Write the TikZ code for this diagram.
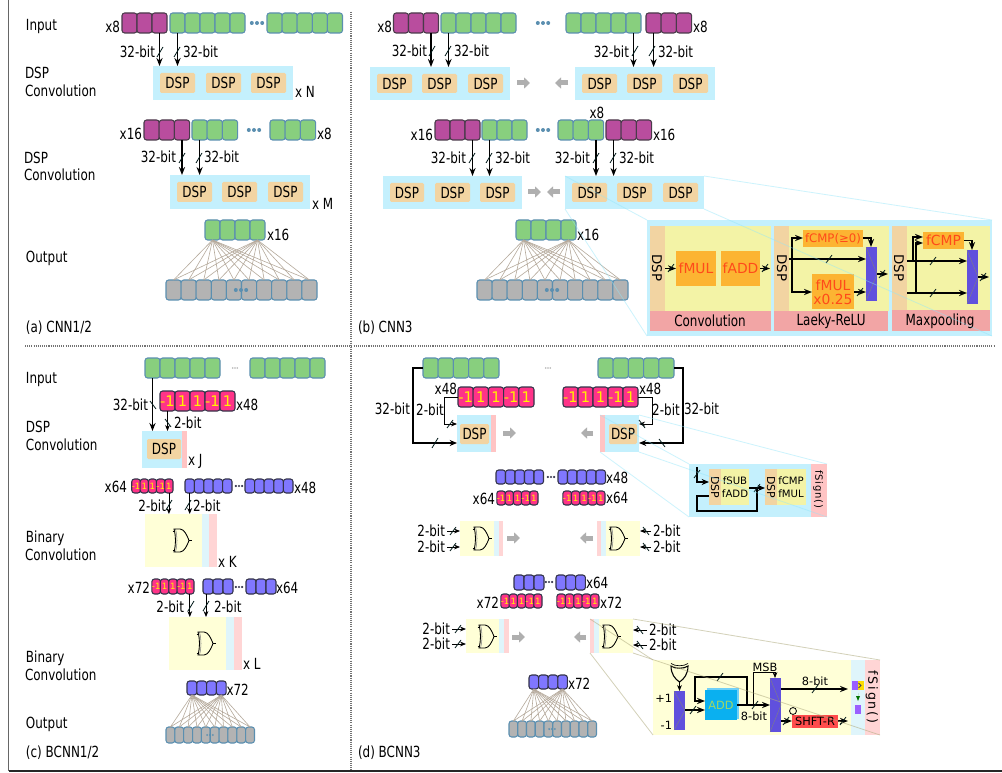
\documentclass[tikz,border=0pt]{standalone}
\usepackage{fontspec}
\usetikzlibrary{arrows.meta}
\setmainfont[FakeStretch=0.78]{DejaVu Sans}
\newfontfamily\plain{DejaVu Sans}
\newfontfamily\spaced[LetterSpace=15]{DejaVu Sans}
\newfontfamily\spacedb[LetterSpace=8]{DejaVu Sans}
\definecolor{cgreen}{HTML}{88CF7E}
\definecolor{cblueb}{HTML}{5B8FB0}
\definecolor{cmag}{HTML}{B94D9E}
\definecolor{cmagb}{HTML}{4A3A4A}
\definecolor{cpink}{HTML}{FF3388}
\definecolor{cpurp}{HTML}{8077FF}
\definecolor{cdark}{HTML}{33334A}
\definecolor{cgray}{HTML}{B3B3B3}
\definecolor{csky}{HTML}{C4F0FD}
\definecolor{ctan}{HTML}{F2D4A2}
\definecolor{cly}{HTML}{FFFFD7}
\definecolor{clb}{HTML}{DFF5FB}
\definecolor{cpp}{HTML}{FFD5D5}
\definecolor{cstrip}{HTML}{FFC4C4}
\definecolor{cmux}{HTML}{6050DD}
\definecolor{ciy}{HTML}{F3F3A6}
\definecolor{cib}{HTML}{F2A5A5}
\definecolor{corg}{HTML}{FCB432}
\definecolor{ctxt}{HTML}{FF4A1A}
\definecolor{cfan}{HTML}{B5A99B}
\definecolor{czoom}{HTML}{8FE6FB}
\definecolor{czoomb}{HTML}{B0AC80}
\definecolor{cadd}{HTML}{0AB0F0}
\definecolor{cadds}{HTML}{70D0F8}
\definecolor{cgarr}{HTML}{AFAFAF}
\tikzset{
 bxb/.style={inner sep=0pt,outer sep=0pt},
 lab/.style={inner sep=0pt,outer sep=0pt,text height=8.4pt,text depth=0pt,font=\fontsize{11.5}{13}\selectfont},
 sm/.style={font=\plain\fontsize{8.5}{10}\selectfont,text height=6.2pt},
 org/.style={font=\plain\fontsize{10.4}{12}\selectfont,text height=7.6pt,text=ctxt},
 rotd/.style={font=\plain\fontsize{10}{12}\selectfont,text height=7.3pt,rotate=-90},
 cellb/.style={inner sep=0pt,outer sep=0pt,rounded corners=2pt,line width=0.8pt},
 gcell/.style={fill=cgreen,draw=cblueb},
 mcell/.style={fill=cmag,draw=cmagb},
 pcell/.style={fill=cpink,draw=cdark,text=yellow},
 ucell/.style={fill=cpurp,draw=cdark},
 ycell/.style={fill=cgray,draw=cblueb},
 skyb/.style={fill=csky},
 tanb/.style={fill=ctan,rounded corners=1pt},
 wire/.style={line width=1pt,black,-{Stealth[length=6pt,width=4.6pt]}},
 thinw/.style={line width=0.6pt,black,-{Stealth[length=4.5pt,width=3.6pt]}},
 plainw/.style={line width=1pt,black},
 bwire/.style={line width=1.4pt,black,-{Stealth[length=5.5pt,width=4.5pt]}},
 garrow/.style={line width=3.75pt,cgarr,-{Triangle[length=4.5pt,width=8.25pt]}},
 tick/.style={line width=0.6pt,black!80!teal},
 fanl/.style={line width=0.45pt,cfan},
 zoomc/.style={line width=0.6pt,czoom,opacity=0.45},
 zoomg/.style={line width=0.6pt,czoomb,opacity=0.55},
 muxx/.style={line width=0.3pt,gray},
}
\newcounter{lab}
\newcommand{\lbl}[5][]{\stepcounter{lab}\node[name=lab\arabic{lab},lab,anchor=#4,#1] at (#2,#3) {#5};}
\newcommand{\bx}[7]{\node[bxb,#6,minimum width={(#4-#2)*0.75pt},minimum height={(#5-#3)*0.75pt}] (#1) at ({(#2+#4)/2},{(#3+#5)/2}) {#7};}
\newcommand{\cellrow}[7]{\foreach \ii in {1,...,#4}{\node[cellb,#7,minimum width={#5*0.75pt},minimum height={#6*0.75pt}] (#1-\ii) at ({#2+(\ii-0.5)*#5},{#3+#6/2}) {};}}
\newcommand{\bitrow}[6]{\foreach \tt [count=\ii] in {-1,1,1,-1,1}{\node[cellb,pcell,font=#6,minimum width={#4*0.75pt},minimum height={#5*0.75pt}] (#1-\ii) at ({#2+(\ii-0.5)*#4},{#3+#5/2}) {\tt};}}
\newcommand{\dsp}[5]{\bx{#1}{#2}{#3}{#4}{#5}{tanb}{\fontsize{11.5}{13}\selectfont DSP}}
\newcommand{\threedots}[4]{\foreach \dd in {-1,0,1}{\fill[#3] ({#1+\dd*#4*2.6},#2) circle[radius=#4];}}
\newcommand{\tk}[2]{\draw[tick] ({#1-3},{#2+5}) -- ({#1+3},{#2-5});}
\newcommand{\tks}[2]{\draw[tick] ({#1-3},{#2+4}) -- ({#1+3},{#2-4});}
\newcommand{\tkb}[2]{\draw[tick] ({#1+3},{#2+4}) -- ({#1-3},{#2-4});}
\newcommand{\fan}[2]{\foreach \sa in {1,4}{\foreach \sb in {1,...,10}{\draw[fanl] (#1-\sa.south) -- (#2-\sb.north);}}}
\newcommand{\orgate}[2]{%
 \draw[line width=0.4pt,gray] ({#1+2.5},#2) .. controls ({#1+4.5},{#2+8}) and ({#1+4.5},{#2+15}) .. ({#1+2.5},{#2+23});
 \draw[line width=0.65pt,black] ({#1+1},#2) .. controls ({#1+3},{#2+8}) and ({#1+3},{#2+15}) .. ({#1+1},{#2+23}) -- ({#1+7},{#2+23}) .. controls ({#1+11},{#2+23}) and ({#1+14},{#2+17}) .. ({#1+16},{#2+11.5}) .. controls ({#1+14},{#2+6}) and ({#1+11},#2) .. ({#1+7},#2) -- cycle;
 \draw[line width=0.6pt,black] ({#1-0.5},{#2+2}) -- ({#1+2},{#2+2}) ({#1-0.5},{#2+21}) -- ({#1+2},{#2+21}) ({#1+16},{#2+11.5}) -- ({#1+19},{#2+11.5});}
\newcommand{\muxlines}[1]{\draw[muxx] (#1.north west) -- (#1.east) -- (#1.south west);}
\begin{document}
\begin{tikzpicture}[x=0.75pt,y=-0.75pt]
\useasboundingbox (0,0) rectangle (1002,773);
\fill[white] (0,0) rectangle (1002,773);
% frame
\draw[line width=1.1pt,black!60] (8.7,0) -- (8.7,771);
\draw[line width=1.1pt,black!85] (8.7,771) -- (1002,771);
\draw[line width=0.8pt,black!55,dash pattern=on 0.8pt off 0.8pt] (351,12) -- (351,770);
\draw[line width=0.8pt,black!55,dash pattern=on 0.8pt off 0.8pt] (25,346) -- (995,346);

% ========= panel (a)
\lbl{26}{25}{west}{Input}
\lbl{25}{73}{west}{DSP}
\lbl{25}{91}{west}{Convolution}
\lbl{24}{158}{west}{DSP}
\lbl{24}{175}{west}{Convolution}
\lbl{26}{257}{west}{Output}
\lbl{26}{327}{west}{(a) CNN1/2}
\lbl{120}{27}{east}{x8}
\cellrow{am}{122}{13}{3}{15}{20}{mcell}
\cellrow{ag}{170}{13}{5}{15}{20}{gcell}
\threedots{257}{23}{cblueb}{2}
\cellrow{ah}{267}{13}{5}{15.1}{20}{gcell}
\bx{abox}{153}{66}{293}{100}{skyb}{}
\dsp{ad1}{160}{73}{195}{93}
\dsp{ad2}{206}{73}{241}{93}
\dsp{ad3}{251}{73}{286}{93}
\draw[wire] (am-3.south) -- (abox.north -| am-3.south);
\draw[wire] (ag-1.south) -- (abox.north -| ag-1.south);
\tk{160}{52}\tk{177}{52}
\lbl{155}{52}{east}{32-bit}
\lbl{183}{52}{west}{32-bit}
\lbl{295}{92}{west}{x N}
\lbl{142}{134}{east}{x16}
\cellrow{bm}{144}{120}{3}{15.2}{20}{mcell}
\cellrow{bg}{192}{120}{3}{15.2}{20}{gcell}
\threedots{254}{130}{cblueb}{2}
\cellrow{bh}{270}{120}{3}{15.2}{20}{gcell}
\lbl{317}{134}{west}{x8}
\bx{bbox}{170}{175}{310}{209}{skyb}{}
\dsp{bd1}{177}{182}{212}{202}
\dsp{bd2}{222}{182}{257}{202}
\dsp{bd3}{268}{182}{303}{202}
\draw[wire] (bm-3.south) -- (bbox.north -| bm-3.south);
\draw[wire] (bg-1.south) -- (bbox.north -| bg-1.south);
\tk{182}{158}\tk{199}{158}
\lbl{176}{157}{east}{32-bit}
\lbl{204}{157}{west}{32-bit}
\lbl{312}{204}{west}{x M}
\cellrow{ao}{205}{220}{4}{15}{20}{gcell}
\lbl{267}{235}{west}{x16}
\cellrow{ay}{166}{280}{10}{15.1}{20}{ycell}
\fan{ao}{ay}
\threedots{241}{290}{cblueb}{2}

% ========= panel (b)
\lbl{392}{27}{east}{x8}
\cellrow{cm}{393.5}{13}{3}{15}{20}{mcell}
\cellrow{cg}{441}{13}{5}{15}{20}{gcell}
\threedots{543}{23}{cblueb}{2}
\cellrow{ch}{566}{13}{5}{15}{20}{gcell}
\cellrow{cn}{646}{13}{3}{15.2}{20}{mcell}
\lbl{693}{27}{west}{x8}
\bx{cbox}{370}{67}{510}{100}{skyb}{}
\bx{dbox}{575}{67}{715}{100}{skyb}{}
\dsp{cd1}{377}{74}{412}{93}
\dsp{cd2}{422}{74}{457}{93}
\dsp{cd3}{468}{74}{503}{93}
\dsp{dd1}{582}{74}{617}{93}
\dsp{dd2}{627}{74}{662}{93}
\dsp{dd3}{673}{74}{708}{93}
\draw[wire] (cm-3.south) -- (cbox.north -| cm-3.south);
\draw[wire] (cg-1.south) -- (cbox.north -| cg-1.south);
\draw[wire] (ch-5.south) -- (dbox.north -| ch-5.south);
\draw[wire] (cn-1.south) -- (dbox.north -| cn-1.south);
\tk{432}{51}\tk{448}{51}\tk{635}{51}\tk{652}{51}
\lbl{427}{51}{east}{32-bit}
\lbl{454}{51}{west}{32-bit}
\lbl{629}{52}{east}{32-bit}
\lbl{658}{52}{west}{32-bit}
\draw[garrow] (517,83) -- (530,83);
\draw[garrow] (568,83) -- (555,83);
\lbl{433}{135}{east}{x16}
\cellrow{em}{435}{120}{3}{15}{20}{mcell}
\cellrow{eg}{482}{120}{3}{15}{20}{gcell}
\threedots{543}{130}{cblueb}{2}
\cellrow{eh}{558}{120}{3}{15.2}{20}{gcell}
\cellrow{en}{606}{120}{3}{15.2}{20}{mcell}
\lbl{653}{135}{west}{x16}
\lbl{597}{113}{center}{x8}
\bx{ebox}{383}{176}{522}{209}{skyb}{}
\bx{fbox}{565}{176}{704}{209}{skyb}{}
\dsp{ed1}{390}{183}{424}{202}
\dsp{ed2}{435}{183}{470}{202}
\dsp{ed3}{480}{183}{515}{202}
\dsp{fd1}{572}{183}{607}{202}
\dsp{fd2}{617}{183}{652}{202}
\dsp{fd3}{663}{183}{698}{202}
\draw[wire] (em-3.south) -- (ebox.north -| em-3.south);
\draw[wire] (eg-1.south) -- (ebox.north -| eg-1.south);
\draw[wire] (eh-3.south) -- (fbox.north -| eh-3.south);
\draw[wire] (en-1.south) -- (fbox.north -| en-1.south);
\tk{472}{158}\tk{489}{158}\tk{596}{158}\tk{613}{158}
\lbl{466}{158}{east}{32-bit}
\lbl{495}{158}{west}{32-bit}
\lbl{590}{158}{east}{32-bit}
\lbl{619}{158}{west}{32-bit}
\draw[garrow] (528,192) -- (541,192);
\draw[garrow] (560,192) -- (547,192);
\cellrow{co}{516}{220}{4}{15}{20}{gcell}
\lbl{577}{235}{west}{x16}
\cellrow{cy}{477}{280}{10}{15.1}{20}{ycell}
\fan{co}{cy}
\threedots{552}{290}{cblueb}{2}
\lbl{358}{327}{west}{(b) CNN3}

% inset (b)
\bx{ibox}{647}{220}{992}{336}{skyb}{}
\bx{iy1}{650}{226}{771}{311}{fill=ciy}{}
\bx{is1}{650}{226}{665}{311}{fill=ctan}{}
\bx{ib1}{650}{311}{771}{331}{fill=cib}{}
\bx{fmul}{676}{251}{716}{286}{fill=corg}{}
\bx{fadd}{721}{251}{760}{286}{fill=corg}{}
\lbl[org]{696}{268}{center}{fMUL}
\lbl[org]{740.5}{268}{center}{fADD}
\lbl[rotd]{657}{268}{center}{DSP}
\lbl{710}{321}{center}{Convolution}
\draw[wire] (is1.east |- fmul.west) -- (fmul.west);
\draw[wire] (fadd.east) -- ++(10,0);
\tks{671}{268}\tks{765}{268}
\bx{iy2}{774}{226}{889}{311}{fill=ciy}{}
\bx{is2}{774}{226}{789}{311}{fill=ctan}{}
\bx{ib2}{774}{311}{888}{331}{fill=cib}{}
\bx{fcmpa}{803}{230}{863}{247}{fill=corg}{}
\bx{fmulb}{812}{274}{854}{309}{fill=corg}{}
\bx{muxa}{866}{247}{877}{301}{fill=cmux}{}
\muxlines{muxa}
\lbl[org,font=\plain\fontsize{8.8}{10}\selectfont,text height=6.6pt]{833}{238}{center}{fCMP(≥0)}
\lbl[org]{833}{285}{center}{fMUL}
\lbl[org]{833}{299}{center}{x0.25}
\lbl[rotd]{782}{268}{center}{DSP}
\lbl{831}{320}{center}{Laeky-ReLU}
\coordinate (ja) at (792,259);
\draw[plainw] (is2.east |- ja) -- (ja);
\draw[wire] (ja) -- (muxa.west |- ja);
\draw[wire] (ja) |- (fcmpa.west |- 0,238);
\draw[wire] (ja) |- (fmulb.west |- 0,292);
\draw[wire] (fcmpa.east |- 0,238) -| (871,247);
\draw[wire] (fmulb.east |- 0,292) -- (muxa.west |- 0,292);
\draw[wire] (muxa.east) -- ++(11,0);
\tks{829}{259}\tks{860}{292}\tks{882}{274}
\bx{iy3}{892}{226}{990}{310}{fill=ciy}{}
\bx{is3}{892}{226}{907}{310}{fill=ctan}{}
\bx{ib3}{892}{310}{990}{331}{fill=cib}{}
\bx{fcmpb}{923}{232}{964}{249}{fill=corg}{}
\bx{muxb}{967}{250}{978}{304}{fill=cmux}{}
\muxlines{muxb}
\lbl[org]{943.5}{240.5}{center}{fCMP}
\lbl[rotd]{899}{268}{center}{DSP}
\lbl{940}{320}{center}{Maxpooling}
\coordinate (jb) at (913,261);
\coordinate (jc) at (916,293);
\draw[wire] (is3.east |- jb) -- (muxb.west |- jb);
\draw[wire] (is3.east |- jc) -- (muxb.west |- jc);
\draw[wire] (jb) |- (fcmpb.west |- 0,237);
\draw[wire] (jc) |- (fcmpb.west |- 0,243);
\draw[wire] (fcmpb.east) -| (972,250);
\draw[wire] (muxb.east) -- ++(11,0);
\tks{933}{261}\tks{933}{293}\tks{983}{277}

% ========= panel (c)
\lbl{26}{378}{west}{Input}
\lbl{26}{427}{west}{DSP}
\lbl{26}{445}{west}{Convolution}
\lbl{26}{537}{west}{Binary}
\lbl{25}{555}{west}{Convolution}
\lbl{26}{657}{west}{Binary}
\lbl{25}{675}{west}{Convolution}
\lbl{26}{723}{west}{Output}
\lbl{26}{752}{west}{(c) BCNN1/2}
\cellrow{pg}{145}{358}{5}{15}{20}{gcell}
\threedots{235}{368}{black!30}{0.9}
\cellrow{ph}{250}{358}{5}{15}{20}{gcell}
\bitrow{pp}{160}{391}{15}{20}{\plain\fontsize{11}{12}\selectfont}
\lbl{236}{405}{west}{x48}
\bx{pbox}{142}{431}{182}{468}{skyb}{}
\bx{pstrip}{182}{431}{187}{468}{fill=cstrip}{}
\dsp{pd}{147}{439}{181}{459}
\draw[wire] (pg-1.south) -- (pbox.north -| pg-1.south);
\draw[thinw] (pp-1.south) -- (pbox.north -| pp-1.south);
\tkb{153}{405}\tkb{168}{423}
\lbl{148}{405}{east}{32-bit}
\lbl{174}{423}{west}{2-bit}
\lbl{188}{460}{west}{x J}
\lbl{127}{487}{east}{x64}
\bitrow{qp}{132}{479}{8.2}{14}{\plain\fontsize{6.5}{7}\selectfont}
\cellrow{qu}{185}{479}{5}{9.4}{14}{ucell}
\threedots{239}{486}{cdark}{1.2}
\cellrow{qv}{245}{479}{5}{9.6}{14}{ucell}
\lbl{294}{488}{west}{x48}
\bx{qbox}{145}{514}{202}{567}{fill=cly}{}
\bx{qb}{202}{514}{209}{567}{fill=clb}{}
\bx{qs}{209}{514}{217}{567}{fill=cpp}{}
\orgate{173}{529}
\draw[thinw] (qp-5.south) -- (qbox.north -| qp-5.south);
\draw[thinw] (qu-1.south) -- (qbox.north -| qu-1.south);
\tk{169}{505}\tk{188}{505}
\lbl{166}{506}{east}{2-bit}
\lbl{193}{506}{west}{2-bit}
\lbl{218}{562}{west}{x K}
\lbl{150}{588}{east}{x72}
\bitrow{rp}{152}{579}{8.4}{15}{\plain\fontsize{6.5}{7}\selectfont}
\cellrow{ru}{203}{579}{3}{10}{15}{ucell}
\threedots{239}{587}{cdark}{1.2}
\cellrow{rv}{246}{579}{3}{10}{15}{ucell}
\lbl{276}{588}{west}{x64}
\bx{rbox}{169}{617}{226}{670}{fill=cly}{}
\bx{rb}{226}{617}{234}{670}{fill=clb}{}
\bx{rs}{234}{617}{242}{670}{fill=cpp}{}
\orgate{197}{632}
\draw[thinw] (rp-5.south) -- (rbox.north -| rp-5.south);
\coordinate (ra) at ([xshift=-1.5pt]ru-1.south);
\draw[thinw] (ra) -- (rbox.north -| ra);
\tk{191}{606}\tk{206}{606}
\lbl{184}{607}{east}{2-bit}
\lbl{214}{607}{west}{2-bit}
\lbl{243}{664}{west}{x L}
\cellrow{so}{187}{681}{4}{9.8}{14}{ucell}
\lbl{226.5}{690}{west}{x72}
\cellrow{sy}{166}{727}{10}{8.85}{16}{ycell}
\fan{so}{sy}
\threedots{210}{735}{cblueb}{1.1}

% ========= panel (d)
\lbl{358}{752}{west}{(d) BCNN3}
\cellrow{tg}{423}{358}{5}{15.2}{20}{gcell}
\threedots{548}{368}{black!30}{0.9}
\cellrow{th}{598}{358}{5}{15.2}{20}{gcell}
\bitrow{tp}{458}{387}{15.2}{20}{\plain\fontsize{11}{12}\selectfont}
\bitrow{tq}{563}{387}{15}{20}{\plain\fontsize{11}{12}\selectfont}
\lbl{457}{389}{east}{x48}
\lbl{639}{389}{west}{x48}
\bx{tbox}{457}{415}{491}{452}{skyb}{}
\bx{tstr}{491}{415}{496}{452}{fill=cstrip}{}
\dsp{td}{460}{424}{489}{444}
\bx{ubox}{605}{415}{639}{452}{skyb}{}
\bx{ustr}{600}{415}{605}{452}{fill=cstrip}{}
\dsp{ud}{609}{424}{637}{444}
\draw[garrow] (503,433) -- (516,433);
\draw[garrow] (593,433) -- (581,433);
\coordinate (wl) at (413,443);
\coordinate (wr) at (683,443);
\draw[bwire] (tg-1.west) -| (wl) -- (tbox.west |- wl);
\draw[bwire] (th-5.east) -| (wr) -- (ubox.east |- wr);
\coordinate (vl) at (444,424);
\coordinate (vr) at (652,424);
\draw[thinw] (tp-1.west) -| (vl) -- (tbox.west |- vl);
\draw[thinw] (tq-5.east) -| (vr) -- (ubox.east |- vr);
\tk{435}{443}\tkb{662}{443}\tks{450}{424}\tkb{642}{424}
\lbl{410}{409}{east}{32-bit}
\lbl{684}{409}{west}{32-bit}
\lbl{430}{410}{center}{2-bit}
\lbl{666}{410}{center}{2-bit}
\cellrow{xu}{496}{470}{5}{9.5}{14}{ucell}
\threedots{551}{477}{cdark}{1.2}
\cellrow{xv}{558}{470}{5}{9.5}{14}{ucell}
\lbl{606}{478}{west}{x48}
\bitrow{xp}{497}{491}{8.2}{14}{\plain\fontsize{6.5}{7}\selectfont}
\bitrow{xq}{563}{491}{8.4}{14}{\plain\fontsize{6.5}{7}\selectfont}
\lbl{495}{499}{east}{x64}
\lbl{606}{498}{west}{x64}
% gates row 1
\lbl[name=ga]{445}{531}{east}{2-bit}
\lbl[name=gb]{445}{547}{east}{2-bit}
\bx{gbox}{460}{521}{494}{556}{fill=cly}{}
\bx{gbb}{494}{521}{499}{556}{fill=clb}{}
\bx{gbs}{499}{521}{503}{556}{fill=cpp}{}
\orgate{473}{527}
\draw[garrow] (507,538) -- (520,538);
\draw[thinw,shorten <=1.5pt] (ga.east) -- (gbox.west |- ga);
\draw[thinw,shorten <=1.5pt] (gb.east) -- (gbox.west |- gb);
\tks{453}{531}\tks{453}{547}
\lbl[name=gc]{653}{531}{west}{2-bit}
\lbl[name=gd]{653}{547}{west}{2-bit}
\bx{hbox}{606}{521}{640}{556}{fill=cly}{}
\bx{hbb}{601}{521}{606}{556}{fill=clb}{}
\bx{hbs}{597}{521}{601}{556}{fill=cpp}{}
\orgate{609}{527}
\draw[garrow] (593,538) -- (580,538);
\draw[thinw,shorten <=1.5pt] (gc.west) -- (hbox.east |- gc);
\draw[thinw,shorten <=1.5pt] (gd.west) -- (hbox.east |- gd);
\tkb{646}{531}\tkb{646}{547}
% row 2
\cellrow{yu}{514}{575}{3}{10}{15}{ucell}
\threedots{549}{582}{cdark}{1.2}
\cellrow{yv}{556}{575}{3}{9.8}{15}{ucell}
\lbl{586}{583}{west}{x64}
\bitrow{yp}{501}{594}{8.2}{14}{\plain\fontsize{6.5}{7}\selectfont}
\bitrow{yq}{557}{594}{8.4}{14}{\plain\fontsize{6.5}{7}\selectfont}
\lbl{499}{603}{east}{x72}
\lbl{600}{603}{west}{x72}
\lbl[name=ka]{450}{629}{east}{2-bit}
\lbl[name=kb]{450}{644}{east}{2-bit}
\bx{kbox}{466}{619}{499}{653}{fill=cly}{}
\bx{kbb}{499}{619}{504}{653}{fill=clb}{}
\bx{kbs}{504}{619}{509}{653}{fill=cpp}{}
\orgate{478}{625}
\draw[garrow] (512,637) -- (525,637);
\draw[thinw,shorten <=1.5pt] (ka.east) -- (kbox.west |- ka);
\draw[thinw,shorten <=1.5pt] (kb.east) -- (kbox.west |- kb);
\tks{458}{629}\tks{458}{644}
\lbl[name=kc]{649}{630}{west}{2-bit}
\lbl[name=kd]{649}{645}{west}{2-bit}
\bx{mbox}{599}{619}{633}{653}{fill=cly}{}
\bx{mbb}{594}{619}{599}{653}{fill=clb}{}
\bx{mbs}{590}{619}{594}{653}{fill=cpp}{}
\orgate{602}{625}
\draw[garrow] (586,637) -- (574,637);
\draw[thinw,shorten <=1.5pt] (kc.west) -- (mbox.east |- kc);
\draw[thinw,shorten <=1.5pt] (kd.west) -- (mbox.east |- kd);
\tkb{640}{630}\tkb{640}{645}
% output
\cellrow{zo}{529}{675}{4}{9.6}{14}{ucell}
\lbl{568}{684}{west}{x72}
\cellrow{zy}{509}{721}{10}{8.75}{16}{ycell}
\fan{zo}{zy}
\threedots{552}{729}{cblueb}{1.1}

% small inset (d)
\bx{lbox}{689}{464}{811}{517}{skyb}{}
\bx{lstr}{811}{464}{827}{517}{fill=cstrip}{}
\lbl[font=\spacedb\fontsize{7.5}{8}\selectfont,text height=5.4pt,rotate=-90]{819}{489.5}{center}{fSign()}
\bx{lt1}{709}{469}{721}{505}{fill=ctan}{}
\bx{ly1}{721}{469}{749}{505}{fill=ciy}{}
\bx{lt2}{765}{469}{777}{505}{fill=ctan}{}
\bx{ly2}{777}{469}{806}{505}{fill=ciy}{}
\lbl[font=\plain\fontsize{8.2}{9}\selectfont,text height=6pt,rotate=-90]{715}{487}{center}{DSP}
\lbl[font=\plain\fontsize{8.2}{9}\selectfont,text height=6pt,rotate=-90]{771}{487}{center}{DSP}
\lbl[font=\plain\fontsize{7.6}{8}\selectfont,text height=5.5pt]{735}{481}{center}{fSUB}
\lbl[font=\plain\fontsize{7.6}{8}\selectfont,text height=5.5pt]{735}{494}{center}{fADD}
\lbl[font=\plain\fontsize{7.6}{8}\selectfont,text height=5.5pt]{791}{481}{center}{fCMP}
\lbl[font=\plain\fontsize{7.6}{8}\selectfont,text height=5.5pt]{791}{494}{center}{fMUL}
\coordinate (la) at (697,467);
\draw[bwire,line width=1.1pt] (la) |- (lt1.west |- 0,482);
\coordinate (lb) at (697,511);
\draw[line width=1.1pt] (lt1.west |- 0,496) -| (lb) -| (757,488);
\draw[bwire,line width=1.1pt] (ly1.east |- 0,488) -- (lt2.west |- 0,488);
\tks{697}{474}\tks{757}{488}

% large inset (d)
\bx{nbox}{653}{660}{851}{735}{fill=cly}{}
\bx{nb}{851}{660}{865}{735}{fill=clb}{}
\bx{ns}{865}{660}{880}{735}{fill=cpp}{}
\lbl[font=\spaced\fontsize{9.5}{10}\selectfont,text height=7pt,rotate=-90]{873}{697}{center}{fSign()}
\bx{mua}{674}{691}{685}{730}{fill=cmux}{}
\muxlines{mua}
\bx{adds}{707}{688}{739}{719}{fill=cadds}{}
\bx{addb}{705}{690}{737}{720}{fill=cadd}{}
\lbl[sm,text=cgreen!80!yellow]{721}{705}{center}{ADD}
\bx{mub}{770}{678}{781}{732}{fill=cmux}{}
\muxlines{mub}
\bx{shft}{792}{715}{838}{728}{fill=red!70!white}{}
\lbl[sm]{815}{721.5}{center}{SHFT-R}
\node[draw,black,line width=0.6pt,circle,inner sep=0pt,minimum size=5.2pt] (inv) at (793,711) {};
% xor gate
\draw[line width=0.8pt,black] (671,666) .. controls (675,669) and (684,669) .. (688,666) .. controls (688,674) and (684,679) .. (679.5,682) .. controls (675,679) and (671,674) .. (671,666) -- cycle;
\draw[line width=0.5pt,black] (671,663.5) .. controls (675,666.5) and (684,666.5) .. (688,663.5);
\coordinate (xo) at (679.5,682);
\draw[thinw] (xo) -- (mua.north -| xo);
\lbl[sm]{672}{698}{east}{+1}
\lbl[sm]{672}{725}{east}{-1}
\coordinate (ao) at (747,705);
\draw[wire] (mua.east |- 0,710) -- (addb.west |- 0,710);
\draw[wire] (ao) |- (695,677) |- (addb.west |- 0,701);
\draw[plainw] (addb.east |- ao) -- (ao);
\draw[wire] (addb.east |- ao) -- (mub.west |- ao);
\coordinate (am) at (753,705);
\draw[thinw] (am) |- (775,672) -- (mub.north -| 775,672);
\lbl[sm]{765}{667}{center}{MSB}
\lbl[sm]{754}{716}{center}{8-bit}
\lbl[sm]{815}{681}{center}{8-bit}
\draw[wire] (mub.east |- 0,689) -- (848,689);
\draw[wire] (mub.east |- 0,721) -- (shft.west |- 0,721);
\draw[wire] (shft.east |- 0,721) -- (848,721);
\tks{693}{710}\tks{720}{677}\tks{755}{705}\tks{815}{689}\tks{786}{721}\tks{843}{721}
\fill[cpurp!80!magenta] (852,681) rectangle (858,690);
\fill[yellow!80!orange] (858,681) rectangle (864,690);
\draw[line width=0.7pt,black!70] (858.5,683) -- (861,685.5) -- (858.5,688);
\fill[green!45!black] (858,693) -- (858,701) -- (856,696) -- (860,696) -- (858,701) -- cycle;
\fill[cpurp!80!magenta] (855,705) rectangle (861,714);

% zoom lines
\draw[zoomc] (fbox.north west) -- (ibox.north west);
\draw[zoomc] (fbox.south west) -- (ibox.south west);
\draw[zoomc] (fbox.north east) -- (ibox.north east);
\draw[zoomc] (fbox.south east) -- (ibox.south east);
\draw[zoomc] (ustr.north west) -- (lbox.north west);
\draw[zoomc] (ustr.south west) -- (lbox.south west);
\draw[zoomc] (ubox.north east) -- (lstr.north east);
\draw[zoomc] (ubox.south east) -- (lstr.south east);
\draw[zoomg] (mbs.north west) -- (nbox.north west);
\draw[zoomg] (mbs.south west) -- (nbox.south west);
\draw[zoomg] (mbox.north east) -- (ns.north east);
\draw[zoomg] (mbox.south east) -- (ns.south east);
\end{tikzpicture}
\end{document}
